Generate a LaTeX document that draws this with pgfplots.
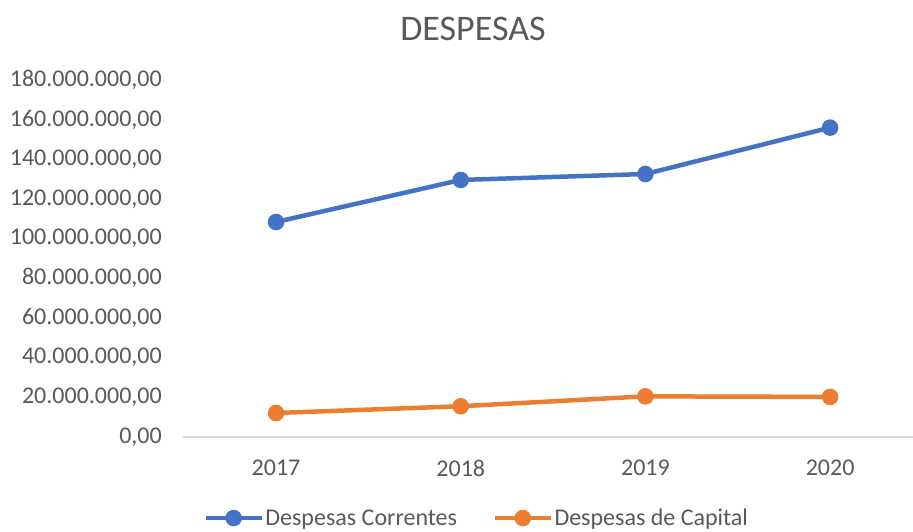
\documentclass[border=0pt]{standalone}
\usepackage{pgfplots}
\pgfplotsset{compat=1.18}
\usepackage{fontspec}
\setmainfont{Carlito}
\definecolor{cblue}{HTML}{4472C4}
\definecolor{corange}{HTML}{ED7D31}
\definecolor{ctext}{HTML}{595959}
\definecolor{caxis}{HTML}{D9D9D9}
\begin{document}
\begin{tikzpicture}
\path[use as bounding box] (-183pt,-95pt) rectangle (730pt,437pt);
\begin{axis}[
  at={(0pt,0pt)}, anchor=south west,
  scale only axis, width=730pt, height=357pt,
  xmin=-0.504, xmax=3.449, ymin=0, ymax=180000000,
  xtick={0,1,2,3}, xticklabels={2017,2018,2019,2020},
  ytick={0,20000000,40000000,60000000,80000000,100000000,120000000,140000000,160000000,180000000},
  scaled y ticks=false,
  /pgf/number format/assume math mode=true,
  yticklabel={\pgfmathprintnumber[fixed, fixed zerofill, precision=2, 1000 sep={.}, dec sep={,}, assume math mode=true]{\tick}},
  ticklabel style={font=\fontsize{24}{28}\selectfont, text=ctext, inner sep=0pt},
  yticklabel style={anchor=east, xshift=-21pt},
  xticklabel style={anchor=north, yshift=-23pt},
  major tick length=0pt,
  tick style={draw=none},
  axis x line=bottom, axis y line=left,
  x axis line style={-, draw=caxis, line width=1.5pt},
  y axis line style={draw=none},
  legend columns=2,
  legend style={at={(0.402,-0.227)}, anchor=center, draw=none, fill=none,
    font=\fontsize{24}{28}\selectfont, text=ctext,
    nodes={inner sep=1.5pt},
    /tikz/every even column/.append style={column sep=34pt}},
  legend image code/.code={\draw[mark repeat=2,mark phase=2,#1] plot coordinates {(0pt,0pt) (28pt,0pt) (56pt,0pt)};},
  clip=false,
]
\addplot[cblue, line width=4.5pt, mark=*, mark size=6pt, mark options={solid}] coordinates {
  (0,108400000) (1,129600000) (2,132600000) (3,156000000)};
\addlegendentry{Despesas Correntes}
\addplot[corange, line width=4.5pt, mark=*, mark size=6pt, mark options={solid}] coordinates {
  (0,12100000) (1,15500000) (2,20500000) (3,20200000)};
\addlegendentry{Despesas de Capital}
\end{axis}
\node[font=\fontsize{36}{40}\selectfont, text=ctext, inner sep=0pt] at (290pt,408.5pt) {DESPESAS};
\end{tikzpicture}
\end{document}
